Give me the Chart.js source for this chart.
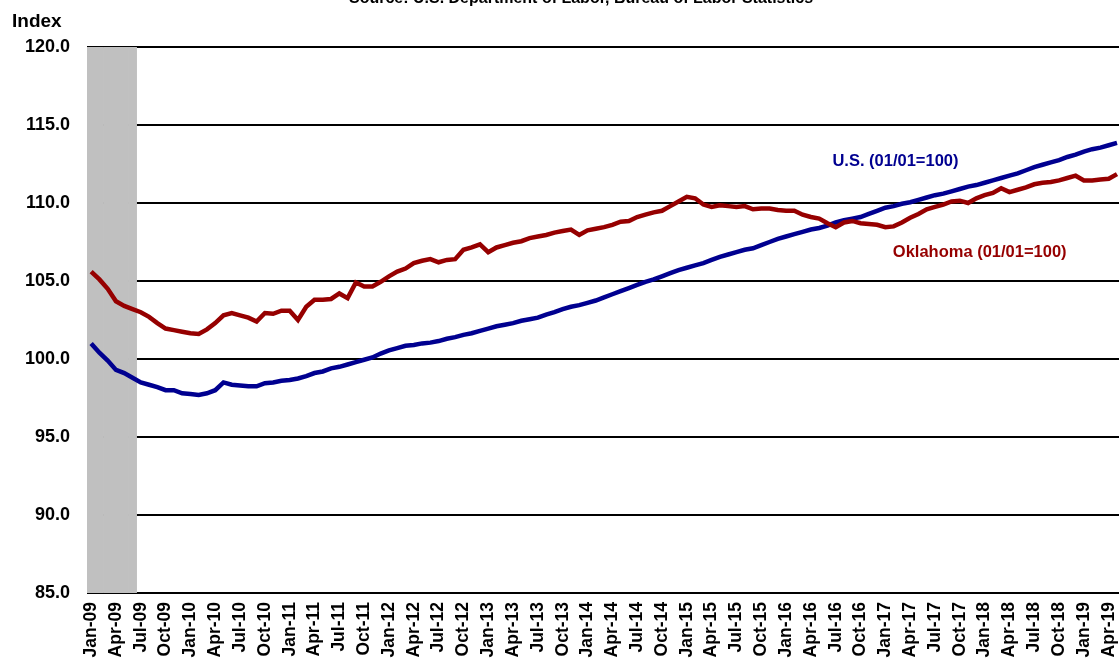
<!DOCTYPE html>
<html>
<head>
<meta charset="utf-8">
<script src="https://cdn.jsdelivr.net/npm/chart.js@4.4.0/dist/chart.umd.min.js"></script>
<style>
  html, body { margin: 0; padding: 0; background: #fff; overflow: hidden; }
  #wrap { position: relative; width: 1119px; height: 666px; overflow: hidden; }
  #chart { position: absolute; left: 0; top: -14px; }
</style>
</head>
<body>
<div id="wrap">
  <canvas id="chart" width="1147" height="680"></canvas>
</div>
<script>
// monthly index values, Jan-09 .. May-19 (01/01=100)
var monthNames = ['Jan','Feb','Mar','Apr','May','Jun','Jul','Aug','Sep','Oct','Nov','Dec'];
var firstYear = 2009;

var usIndex = [
  101.0, 100.4, 99.9, 99.3, 99.1, 98.8, 98.5, 98.35, 98.2, 98.0, 98.0, 97.8,
  97.75, 97.7, 97.8, 98.0, 98.5, 98.35, 98.3, 98.25, 98.25, 98.45, 98.5, 98.6,
  98.65, 98.75, 98.9, 99.1, 99.2, 99.4, 99.5, 99.65, 99.8, 99.95, 100.1, 100.35,
  100.55, 100.7, 100.85, 100.9, 101.0, 101.05, 101.15, 101.3, 101.4, 101.55, 101.65, 101.8,
  101.95, 102.1, 102.2, 102.3, 102.45, 102.55, 102.65, 102.85, 103.0, 103.2, 103.35, 103.45,
  103.6, 103.75, 103.95, 104.15, 104.35, 104.55, 104.75, 104.95, 105.1, 105.3, 105.5, 105.7,
  105.85, 106.0, 106.15, 106.35, 106.55, 106.7, 106.85, 107.0, 107.1, 107.3, 107.5, 107.7,
  107.85, 108.0, 108.15, 108.3, 108.4, 108.55, 108.75, 108.9, 109.0, 109.1, 109.3, 109.5,
  109.7, 109.8, 109.95, 110.05, 110.2, 110.35, 110.5, 110.6, 110.75, 110.9, 111.05, 111.15,
  111.3, 111.45, 111.6, 111.75, 111.9, 112.1, 112.3, 112.45, 112.6, 112.75, 112.95, 113.1,
  113.3, 113.45, 113.55, 113.7, 113.85
];

var okIndex = [
  105.6, 105.1, 104.5, 103.7, 103.4, 103.2, 103.0, 102.7, 102.3, 101.95, 101.85, 101.75,
  101.65, 101.6, 101.9, 102.3, 102.8, 102.95, 102.8, 102.65, 102.4, 102.95, 102.9, 103.1,
  103.1, 102.5, 103.35, 103.8, 103.8, 103.85, 104.2, 103.9, 104.9, 104.65, 104.65, 104.95,
  105.3, 105.6, 105.8, 106.15, 106.3, 106.4, 106.2, 106.35, 106.4, 107.0, 107.15, 107.35,
  106.85, 107.15, 107.3, 107.45, 107.55, 107.75, 107.85, 107.95, 108.1, 108.2, 108.3, 107.95,
  108.25, 108.35, 108.45, 108.6, 108.8, 108.85, 109.1, 109.25, 109.4, 109.5, 109.8, 110.1,
  110.4, 110.3, 109.9, 109.75, 109.85, 109.8, 109.75, 109.8, 109.6, 109.65, 109.65, 109.55,
  109.5, 109.5, 109.25, 109.1, 109.0, 108.7, 108.45, 108.75, 108.85, 108.7, 108.65, 108.6,
  108.45, 108.5, 108.75, 109.05, 109.3, 109.6, 109.75, 109.9, 110.1, 110.15, 110.0, 110.3,
  110.5, 110.65, 110.95, 110.7, 110.85, 111.0, 111.2, 111.3, 111.35, 111.45, 111.6, 111.75,
  111.45, 111.45, 111.5, 111.55, 111.85
];

// recession shading: Jan-09 .. Jun-09
var recessionMonths = 6;
var yTicks = [85, 90, 95, 100, 105, 110, 115, 120];

var labels = [];
for (var i = 0; i < usIndex.length; i++) {
  var yr = firstYear + Math.floor(i / 12);
  labels.push(monthNames[i % 12] + '-' + String(yr).slice(2));
}
var shade = labels.map(function (l, i) { return i < recessionMonths ? [85, 120] : null; });

var FONT = "'Liberation Sans', Arial, sans-serif";

var textPlugin = {
  id: 'textPlugin',
  afterDraw: function (chart) {
    var ctx = chart.ctx;
    var xs = chart.scales.x, ys = chart.scales.y;
    ctx.save();
    ctx.textBaseline = 'alphabetic';
    ctx.fillStyle = '#000';
    ctx.font = 'bold 16px ' + FONT;
    ctx.textAlign = 'center';
    ctx.fillText('Source: U.S. Department of Labor, Bureau of Labor Statistics', 581, 17);
    ctx.textAlign = 'left';
    ctx.font = 'bold 19px ' + FONT;
    ctx.fillText('Index', 12, 41);
    ctx.font = 'bold 16.5px ' + FONT;
    ctx.fillStyle = '#000090';
    ctx.fillText('U.S. (01/01=100)', xs.getPixelForValue(89.6), ys.getPixelForValue(112.4));
    ctx.fillStyle = '#960000';
    ctx.fillText('Oklahoma (01/01=100)', xs.getPixelForValue(96.9), ys.getPixelForValue(106.55));
    ctx.restore();
  }
};

var ctx = document.getElementById('chart').getContext('2d');
var myChart = new Chart(ctx, {
  data: {
    labels: labels,
    datasets: [
      {
        type: 'line',
        label: 'U.S. (01/01=100)',
        data: usIndex,
        borderColor: '#000090',
        borderWidth: 4.5,
        pointRadius: 0,
        tension: 0,
        order: 1
      },
      {
        type: 'line',
        label: 'Oklahoma (01/01=100)',
        data: okIndex,
        borderColor: '#960000',
        borderWidth: 4.5,
        pointRadius: 0,
        tension: 0,
        order: 0
      },
      {
        type: 'bar',
        label: 'Recession',
        data: shade,
        backgroundColor: '#c0c0c0',
        borderWidth: 0,
        barPercentage: 1,
        categoryPercentage: 1,
        order: 2
      }
    ]
  },
  options: {
    responsive: false,
    animation: false,
    devicePixelRatio: 1,
    layout: { padding: { top: 61, left: 0, right: 0, bottom: 0 } },
    plugins: {
      legend: { display: false },
      tooltip: { enabled: false },
      title: { display: false }
    },
    scales: {
      x: {
        offset: true,
        grid: { display: false, drawTicks: false },
        border: { display: false },
        afterFit: function (scale) { scale.height = 73; },
        ticks: {
          autoSkip: false,
          maxRotation: 90,
          minRotation: 90,
          padding: 9,
          color: '#000',
          font: { family: FONT, size: 17.5, weight: 'bold' },
          callback: function (val, idx) { return idx % 3 === 0 ? labels[idx] : ''; }
        }
      },
      y: {
        min: 85,
        max: 120,
        afterFit: function (scale) { scale.width = 87; },
        afterBuildTicks: function (scale) {
          scale.ticks = yTicks.map(function (v) { return { value: v }; });
        },
        grid: { color: '#000', lineWidth: 2, drawTicks: false },
        border: { display: false },
        ticks: {
          padding: 17,
          color: '#000',
          font: { family: FONT, size: 18, weight: 'bold' },
          callback: function (v) { return Number(v).toFixed(1); }
        }
      }
    }
  },
  plugins: [textPlugin]
});
</script>
</body>
</html>
